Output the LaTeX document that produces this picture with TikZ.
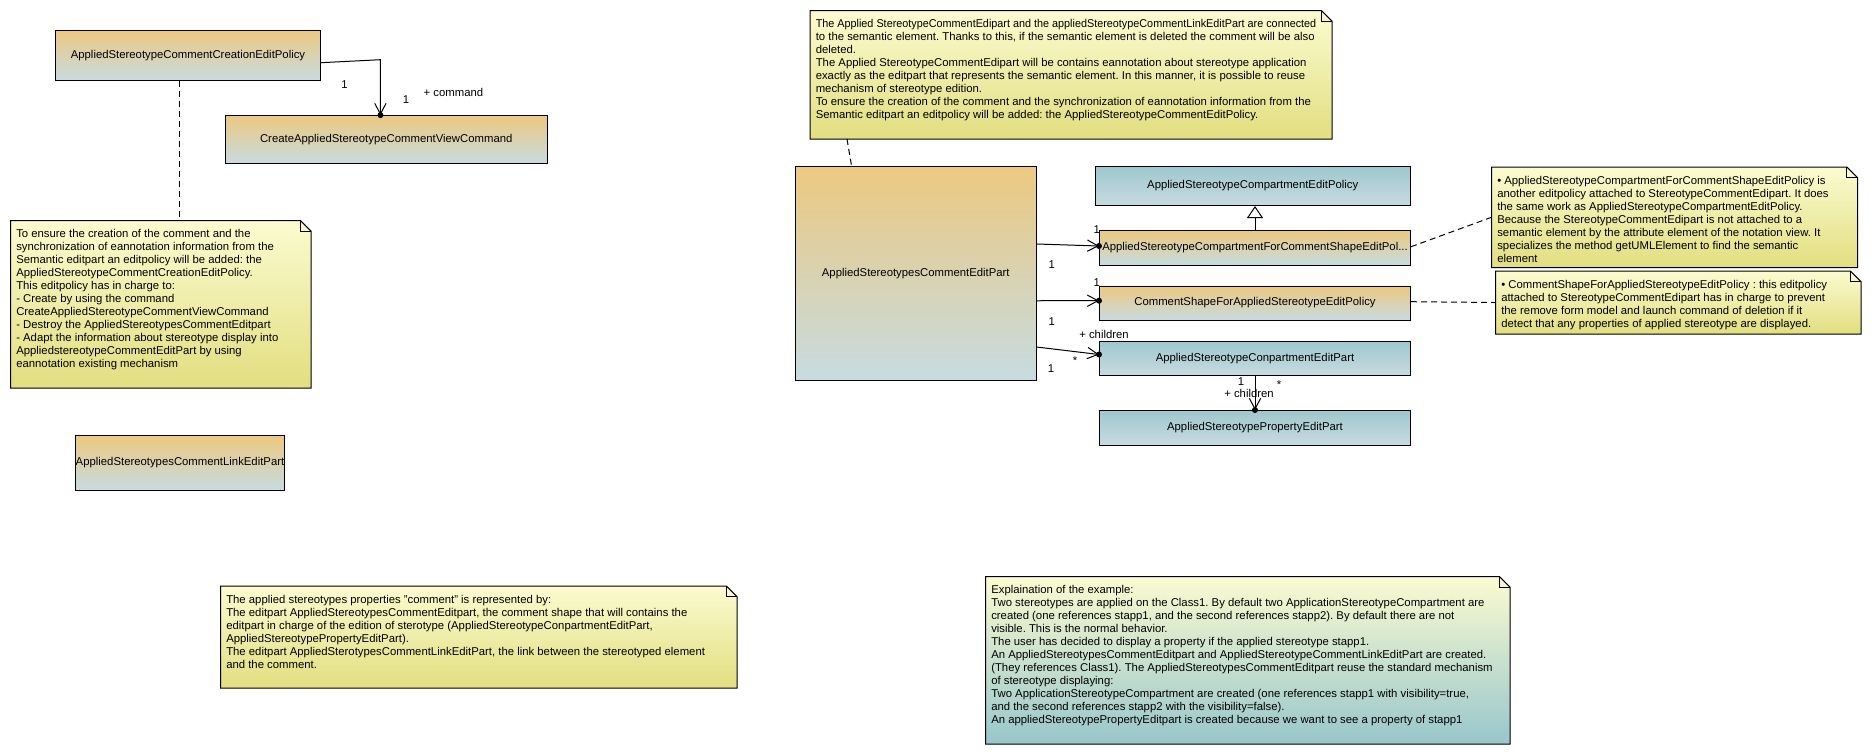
\documentclass[tikz,border=0pt]{standalone}
\usepackage{fontspec}
\usepackage{graphicx}
\setmainfont{Liberation Sans}
\usetikzlibrary{arrows.meta,calc}
\frenchspacing

\definecolor{ochre}{RGB}{236,201,128}
\definecolor{mist}{RGB}{199,219,225}
\definecolor{tealtop}{RGB}{158,199,205}
\definecolor{paper}{RGB}{251,251,208}
\definecolor{straw}{RGB}{226,222,128}
\definecolor{lagoon}{RGB}{152,198,204}

\tikzset{
  txt/.style={font=\fontsize{8.5pt}{9.75pt}\selectfont},
  cls/.style={txt, draw=black, line width=0.75pt, inner sep=0pt, align=center},
  warm/.style={cls, top color=ochre, bottom color=mist},
  cool/.style={cls, top color=tealtop, bottom color=mist},
  dims/.style 2 args={minimum width=#1*0.75pt, minimum height=#2*0.75pt},
  noteframe/.style={inner sep=0pt, anchor=north west},
  notefill/.style={top color=paper, bottom color=straw},
  seafill/.style={top color=paper, bottom color=lagoon},
  memo/.style={txt, inner sep=0pt, anchor=north west, align=left},
  lbl/.style={txt, inner sep=0pt},
  wire/.style={draw=black, line width=0.75pt},
  own/.style={wire, -{Straight Barb[length=8pt,width=8.5pt]}},
  owndot/.style={circle, fill=black, inner sep=0pt, minimum size=4.5pt},
  attach/.style={wire, dash pattern=on 4.5pt off 3pt},
  inherit/.style={wire, -{Triangle[open, length=9pt, width=12pt, fill=white]}},
}

% outline of a UML note with a folded top-right corner, drawn round a frame node
\newcommand\notepath[2]{%
  \shadedraw[#2, draw=black, line width=0.75pt] (#1.north west) -- ([xshift=-8pt]#1.north east)
    -- ([yshift=-8pt]#1.north east) -- (#1.south east) -- (#1.south west) -- cycle;
  \draw[line width=0.75pt] ([xshift=-8pt]#1.north east) |- ([yshift=-8pt]#1.north east);
}

\begin{document}
\begin{tikzpicture}[x=0.75pt,y=-0.75pt]
\useasboundingbox (0,0) rectangle (1871,753);
\fill[white] (0,0) rectangle (1871,753);

% ---------- classes ----------
\node[warm, dims={265}{50}] (creation) at (188,55.5) {AppliedStereotypeCommentCreationEditPolicy};
\node[warm, dims={321.5}{48}] (command) at (386.25,139.6) {CreateAppliedStereotypeCommentViewCommand};
\node[warm, dims={209}{55}] (linkpart) at (180,463) {\makebox[0pt]{AppliedStereotypesCommentLinkEditPart}};
\node[warm, dims={240.5}{214.5}] (big) at (915.75,273.25) {AppliedStereotypesCommentEditPart};
\node[cool, dims={315.5}{39.5}] (comppol) at (1252.75,185.75) {AppliedStereotypeCompartmentEditPolicy};
\node[warm, dims={311}{34.5}] (forcomment) at (1255,247.75) {\makebox[0pt]{AppliedStereotypeCompartmentForCommentShapeEditPol...}};
\node[warm, dims={311}{34}] (shapefor) at (1255,303) {CommentShapeForAppliedStereotypeEditPolicy};
\node[cool, dims={311}{34}] (conpart) at (1255,358.5) {AppliedStereotypeConpartmentEditPart};
\node[cool, dims={311}{34.5}] (property) at (1255,427.75) {AppliedStereotypePropertyEditPart};

% ---------- notes ----------
\node[noteframe, dims={300}{167}] (nleft) at (10.5,220.5) {};
\notepath{nleft}{notefill}
\node[memo] (nlefttext) at ([shift={(5.5,9)}]nleft.north west) {To ensure the creation of the comment and the\\
synchronization of eannotation information from the\\
Semantic editpart an editpolicy will be added: the\\
AppliedStereotypeCommentCreationEditPolicy.\\
This editpolicy has in charge to:\\
- Create by using the command\\
CreateAppliedStereotypeCommentViewCommand\\
- Destroy the AppliedStereotypesCommentEditpart\\
- Adapt the information about stereotype display into\\
AppliedstereotypeCommentEditPart by using\\
eannotation existing mechanism};

\node[noteframe, dims={516}{101.5}] (nbottom) at (220.5,586) {};
\notepath{nbottom}{notefill}
\node[memo] (nbottomtext) at ([shift={(5.5,9)}]nbottom.north west) {The applied stereotypes properties ”comment” is represented by:\\
The editpart AppliedStereotypesCommentEditpart, the comment shape that will contains the\\
editpart in charge of the edition of sterotype (AppliedStereotypeConpartmentEditPart,\\
AppliedStereotypePropertyEditPart).\\
The editpart AppliedSterotypesCommentLinkEditPart, the link between the stereotyped element\\
and the comment.};

\node[noteframe, dims={521.5}{128}] (ntop) at (810,10.5) {};
\notepath{ntop}{notefill}
\node[memo] (ntoptext) at ([shift={(5.5,9)}]ntop.north west) {\scalebox{0.955}[1]{The Applied StereotypeCommentEdipart and the appliedStereotypeCommentLinkEditPart are connected}\\
to the semantic element. Thanks to this, if the semantic element is deleted the comment will be also\\
deleted.\\
The Applied StereotypeCommentEdipart will be contains eannotation about stereotype application\\
exactly as the editpart that represents the semantic element. In this manner, it is possible to reuse\\
mechanism of stereotype edition.\\
To ensure the creation of the comment and the synchronization of eannotation information from the\\
Semantic editpart an editpolicy will be added: the AppliedStereotypeCommentEditPolicy.};

\node[noteframe, dims={365.5}{100}] (nrone) at (1491.5,167) {};
\notepath{nrone}{notefill}
\node[memo] (nronetext) at ([shift={(5.5,9)}]nrone.north west) {• AppliedStereotypeCompartmentForCommentShapeEditPolicy is\\
another editpolicy attached to StereotypeCommentEdipart. It does\\
the same work as AppliedStereotypeCompartmentEditPolicy.\\
Because the StereotypeCommentEdipart is not attached to a\\
semantic element by the attribute element of the notation view. It\\
specializes the method getUMLElement to find the semantic\\
element};

\node[noteframe, dims={365}{62.5}] (nrtwo) at (1495.5,271) {};
\notepath{nrtwo}{notefill}
\node[memo] (nrtwotext) at ([shift={(5.5,9)}]nrtwo.north west) {• CommentShapeForAppliedStereotypeEditPolicy : this editpolicy\\
attached to StereotypeCommentEdipart has in charge to prevent\\
the remove form model and launch command of deletion if it\\
detect that any properties of applied stereotype are displayed.};

\node[noteframe, dims={524}{167}] (nexample) at (985.5,576.5) {};
\notepath{nexample}{seafill}
\node[memo] (nexampletext) at ([shift={(5.5,9)}]nexample.north west) {Explaination of the example:\\
Two stereotypes are applied on the Class1. By default two ApplicationStereotypeCompartment are\\
created (one references stapp1, and the second references stapp2). By default there are not\\
visible. This is the normal behavior.\\
The user has decided to display a property if the applied stereotype stapp1.\\
An AppliedStereotypesCommentEditpart and AppliedStereotypeCommentLinkEditPart are created.\\
(They references Class1). The AppliedStereotypesCommentEditpart reuse the standard mechanism\\
of stereotype displaying:\\
Two ApplicationStereotypeCompartment are created (one references stapp1 with visibility=true,\\
and the second references stapp2 with the visibility=false).\\
An appliedStereotypePropertyEditpart is created because we want to see a property of stapp1};

% ---------- associations ----------
\draw[own] ([shift={(0,7.2)}]creation.east) -- ([shift={(-5.85,-55.4)}]command.north)
  -- ([shift={(-5.85,0)}]command.north) node[owndot] (d1) {};
\draw[own] ([shift={(0,-29.25)}]big.east) -- ([shift={(0,-1.75)}]forcomment.west) node[owndot] (d2) {};
\draw[own] ([shift={(0,27.5)}]big.east) -- ([shift={(0,-2.3)}]shapefor.west) node[owndot] (d3) {};
\draw[own] ([shift={(0,73.75)}]big.east) -- ([shift={(0,-4)}]conpart.west) node[owndot] (d4) {};
\draw[own] (conpart.south) -- (property.north) node[owndot] (d5) {};

% ---------- generalization ----------
\draw[inherit] (forcomment.north) -- (forcomment.north |- comppol.south);

% ---------- note attachments ----------
\draw[attach] ([shift={(-8.7,0)}]creation.south) -- ([shift={(-8.7,0)}]creation.south |- nleft.north);
\draw[attach] ([shift={(37,0)}]ntop.south west) -- ([shift={(56.5,0)}]big.north west);
\draw[attach] ([shift={(0,-1)}]forcomment.east) -- (nrone.west);
\draw[attach] ([shift={(0,-1.3)}]shapefor.east) -- (nrtwo.west);

% ---------- role names and multiplicities ----------
\node[lbl] (m1) at (344.6,84.3) {1};
\node[lbl] (m2) at (406,100) {1};
\node[lbl] (r1) at (453.5,92.7) {+ command};
\node[lbl] (m3) at (1051.7,265) {1};
\node[lbl] (m4) at (1096.7,230) {1};
\node[lbl] (m5) at (1051.7,322) {1};
\node[lbl] (m6) at (1096.7,283) {1};
\node[lbl] (m7) at (1051,369) {1};
\node[lbl] (m8) at (1075,361) {*};
\node[lbl] (r2) at (1104,334) {+ children};
\node[lbl] (m9) at (1241,382) {1};
\node[lbl] (r3) at (1249,393) {+ children};
\node[lbl] (m10) at (1279,385) {*};
\end{tikzpicture}
\end{document}
